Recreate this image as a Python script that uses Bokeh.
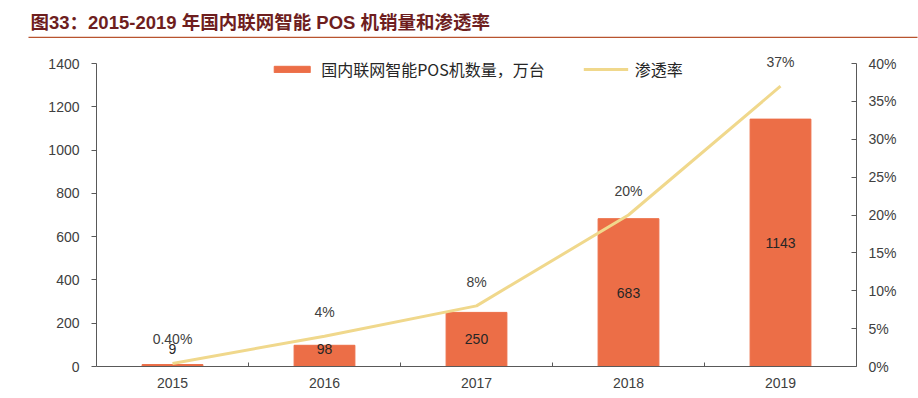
from bokeh.plotting import figure
from bokeh.models import (ColumnDataSource, Range1d, LinearAxis, FixedTicker, NumeralTickFormatter,
                          Legend, LegendItem, LabelSet, Label)
from bokeh.core.properties import value
from bokeh.embed import file_html
from bokeh.resources import INLINE

# ---- data ----
title_text = "图33：2015-2019 年国内联网智能 POS 机销量和渗透率"
years = ["2015", "2016", "2017", "2018", "2019"]
sales = [9, 98, 250, 683, 1143]          # 国内联网智能POS机数量，万台
rate = [0.004, 0.04, 0.08, 0.20, 0.37]    # 渗透率
rate_labels = ["0.40%", "4%", "8%", "20%", "37%"]
left_ticks = [0, 200, 400, 600, 800, 1000, 1200, 1400]
right_ticks = [0, 0.05, 0.10, 0.15, 0.20, 0.25, 0.30, 0.35, 0.40]
LEFT_MAX = 1400
RIGHT_MAX = 0.40

BAR = "#EC6E47"
LINE = "#F0D88C"
AXIS = "#595959"
TXT = "#262626"
FONT = "Liberation Sans"
CJK = "Noto Sans CJK SC"

W = 918
BL, FW, BR = 96, 760, 62

# ---- title strip (its own root; data units == page pixels) ----
TH = 38
t = figure(width=W, height=TH, x_range=Range1d(0, W), y_range=Range1d(TH, 0),
           min_border=0, toolbar_location=None, output_backend="svg",
           x_axis_type=None, y_axis_type=None)
t.outline_line_color = None
t.grid.visible = False
t.add_layout(Label(x=30, y=22, text=title_text, text_baseline="middle",
                   text_font="Liberation Sans, Noto Sans CJK SC", text_font_style="bold",
                   text_font_size="18.5px", text_color="#6E1E1E"))
t.segment(x0=[28], y0=[37], x1=[917], y1=[37], line_color="#B8532E", line_width=1.5)

# ---- main chart ----
FRAME_H = 323          # frame extends a little above the 1400 / 40% tick
AX_H = 303             # pixel height of the drawn axes
scale = FRAME_H / AX_H

xs = list(range(len(years)))
src = ColumnDataSource(dict(
    x=xs, sales=sales, rate=rate,
    sales_txt=[str(v) for v in sales],
    sales_y=[max(v / 2, 83) for v in sales],
    rate_txt=rate_labels,
))

p = figure(frame_width=FW, frame_height=FRAME_H, output_backend="svg", toolbar_location=None,
           x_range=Range1d(-0.5, len(years) - 0.5), y_range=Range1d(0, LEFT_MAX * scale),
           min_border_left=BL, min_border_right=BR, min_border_top=5, min_border_bottom=32)
p.outline_line_color = None
p.grid.visible = False

p.extra_y_ranges = {"pct": Range1d(0, RIGHT_MAX * scale)}

bars = p.vbar(x="x", top="sales", width=0.4, source=src, fill_color=BAR, line_color=BAR)
line = p.line(x="x", y="rate", source=src, y_range_name="pct", line_color=LINE, line_width=3)

p.add_layout(LabelSet(x="x", y="sales_y", text="sales_txt", source=src, text_align="center",
                      text_baseline="middle", text_font_size="14px", text_color=TXT,
                      text_font=value(FONT)))
p.add_layout(LabelSet(x="x", y="rate", y_range_name="pct", text="rate_txt", source=src,
                      text_align="center", text_baseline="middle", y_offset=24,
                      text_font_size="14px", text_color="#404040", text_font=value(FONT)))

# x axis
xa = p.xaxis[0]
xa.ticker = FixedTicker(ticks=xs, minor_ticks=[i + 0.5 for i in xs[:-1]])
xa.major_label_overrides = {i: y for i, y in zip(xs, years)}
xa.major_tick_in = 0
xa.major_tick_out = 0
xa.minor_tick_in = 4
xa.minor_tick_out = 0
xa.minor_tick_line_color = AXIS
xa.axis_line_color = AXIS
xa.major_label_standoff = 11
xa.major_label_text_font_size = "14px"
xa.major_label_text_color = "#404040"
xa.major_label_text_font = FONT

# left axis
ya = p.yaxis[0]
ya.ticker = FixedTicker(ticks=left_ticks)
ya.bounds = (0, LEFT_MAX)
ya.major_tick_in = 0
ya.major_tick_out = 5
ya.minor_tick_line_color = None
ya.axis_line_color = AXIS
ya.major_tick_line_color = AXIS
ya.major_label_standoff = 12
ya.major_label_text_font_size = "14px"
ya.major_label_text_color = "#404040"
ya.major_label_text_font = FONT

# right axis
ra = LinearAxis(y_range_name="pct", ticker=FixedTicker(ticks=right_ticks),
                formatter=NumeralTickFormatter(format="0%"), bounds=(0, RIGHT_MAX))
ra.major_tick_in = 5
ra.major_tick_out = 0
ra.minor_tick_line_color = None
ra.axis_line_color = AXIS
ra.major_tick_line_color = AXIS
ra.major_label_standoff = 12
ra.major_label_text_font_size = "14px"
ra.major_label_text_color = "#404040"
ra.major_label_text_font = FONT
p.add_layout(ra, "right")

legend = Legend(items=[LegendItem(label="国内联网智能POS机数量，万台", renderers=[bars]),
                       LegendItem(label="渗透率", renderers=[line])],
                orientation="horizontal", location="top_center",
                glyph_width=45, glyph_height=8, label_standoff=7, spacing=38,
                label_text_font=CJK, label_text_font_size="16px", label_text_color=TXT,
                border_line_color=None, background_fill_alpha=0, margin=14, padding=4)
p.add_layout(legend)

open("out.html", "w").write(file_html([t, p], INLINE))
